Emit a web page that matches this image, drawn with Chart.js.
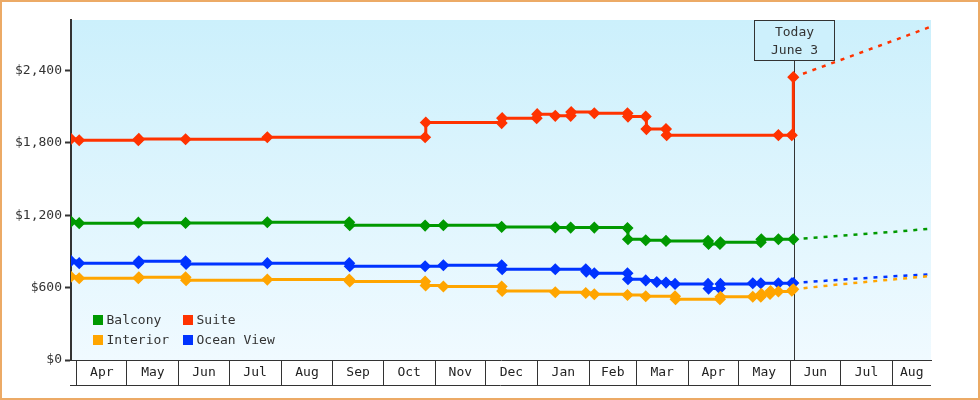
<!DOCTYPE html>
<html>
<head>
<meta charset="utf-8">
<title>Cabin prices</title>
<script src="https://cdn.jsdelivr.net/npm/chart.js@4.4.0/dist/chart.umd.min.js"></script>
<style>
    body { margin: 0; background: #fff; }
    #wrap { width: 976px; height: 396px; border: 2px solid #ecaa66; position: relative; }
</style>
</head>
<body>
<div id="wrap"><canvas id="priceChart"></canvas></div>
<script>
// ejes: dias contados desde el 1 de abril
const monthLabels = ['Apr', 'May', 'Jun', 'Jul', 'Aug', 'Sep', 'Oct', 'Nov', 'Dec', 'Jan', 'Feb', 'Mar', 'Apr', 'May', 'Jun', 'Jul', 'Aug'];
const monthStarts = [0, 30, 61, 91, 122, 153, 183, 214, 244, 275, 306, 334, 365, 395, 426, 456, 487];
const yTicks = [0, 600, 1200, 1800, 2400];
const todayDay = 428;
const todayText = ['Today', 'June 3'];

// precios observados
const balconyDays = [-3.4, 1.5, 36.8, 65, 113.8, 162.7, 163, 208, 218.9, 253.7, 285.7, 294.9, 309, 328.8, 329.1, 339.7, 351.8, 376.9, 377.2, 384, 384.3, 408.4, 408.7, 418.9, 427.8];
const balconyPrices = [1148, 1135, 1139, 1137, 1143, 1143, 1118, 1115, 1118, 1104, 1100, 1098, 1098, 1094, 1002, 993, 988, 988, 962, 962, 977, 977, 1002, 1002, 1002];

const suiteDays = [-3.4, 1.5, 36.8, 37.1, 65, 113.8, 208, 208.4, 253.7, 254, 274.6, 274.9, 285.7, 294.9, 295.2, 309, 328.8, 329.1, 339.7, 340.1, 351.8, 352.2, 418.9, 426.9, 427.8];
const suitePrices = [1834, 1823, 1823, 1834, 1831, 1848, 1848, 1970, 1965, 2006, 2006, 2039, 2025, 2025, 2056, 2047, 2047, 2019, 2019, 1915, 1915, 1865, 1865, 1865, 2346];

const interiorDays = [-3.4, 1.5, 36.8, 37.1, 65, 65.3, 113.8, 162.7, 163, 208, 208.3, 218.9, 253.7, 254, 285.7, 303.9, 309, 328.8, 339.7, 357.2, 357.5, 384, 384.3, 403.6, 408.4, 408.7, 413.9, 414.2, 418.9, 426.9, 427.8];
const interiorPrices = [691, 678, 678, 686, 686, 661, 667, 667, 651, 651, 618, 610, 610, 573, 562, 556, 545, 539, 529, 529, 504, 504, 525, 525, 525, 548, 548, 572, 568, 575, 587];

const oceanDays = [-3.4, 1.5, 36.8, 37.1, 65, 65.3, 113.8, 162.7, 163, 208, 218.9, 253.7, 254, 285.7, 303.9, 304.2, 309, 328.8, 329.1, 339.7, 346.3, 351.8, 357.2, 376.9, 377.2, 384, 384.3, 403.6, 408.4, 418.9, 426.9, 427.8];
const oceanPrices = [822, 803, 803, 819, 819, 797, 803, 803, 778, 778, 786, 786, 753, 753, 753, 733, 720, 720, 670, 660, 647, 642, 631, 631, 592, 592, 631, 637, 637, 637, 637, 639];

// proyeccion (punteada)
const forecastDays = [428, 456, 487, 510];
const balconyForecast = [1002, 1031, 1062, 1089];
const suiteForecast = [2346, 2488, 2646, 2765];
const interiorForecast = [587, 628, 668, 697];
const oceanForecast = [639, 666, 694, 711];

const colors = { balcony: '#009900', suite: '#ff3300', interior: '#ffa500', ocean: '#0033ff' };

function pts(days, prices) {
    return days.map((d, i) => ({ x: d, y: prices[i] }));
}

function series(label, color, days, prices) {
    return {
        label: label,
        data: pts(days, prices),
        borderColor: color,
        backgroundColor: color,
        borderWidth: 3,
        stepped: true,
        pointStyle: 'rectRot',
        pointRadius: 5,
        pointBorderWidth: 1.5,
        showInKey: true
    };
}

function forecast(color, prices) {
    return {
        label: '',
        data: pts(forecastDays, prices),
        borderColor: color,
        borderWidth: 2.5,
        borderDash: [4, 6],
        pointRadius: 0,
        showInKey: false
    };
}

const font = "'DejaVu Sans Mono', monospace";
Chart.defaults.font.family = font;
Chart.defaults.font.size = 13;
Chart.defaults.color = '#333';

// fondo degradado del area del grafico
const backdrop = {
    id: 'backdrop',
    beforeDraw(chart) {
        const { ctx, chartArea: a } = chart;
        const g = ctx.createLinearGradient(0, a.top, 0, a.bottom);
        g.addColorStop(0, '#ccf0fc');
        g.addColorStop(1, '#f0faff');
        ctx.save();
        ctx.fillStyle = g;
        ctx.fillRect(a.left, a.top, a.right - a.left, a.bottom - a.top);
        ctx.restore();
    }
};

// linea de "hoy" con su cartel
const todayMarker = {
    id: 'todayMarker',
    beforeDatasetsDraw(chart) {
        const { ctx, chartArea: a } = chart;
        const x = Math.round(chart.scales.x.getPixelForValue(todayDay)) + 0.5;
        const boxW = 80, boxH = 40;
        ctx.save();
        ctx.strokeStyle = '#333';
        ctx.lineWidth = 1;
        ctx.beginPath();
        ctx.moveTo(x, a.top + boxH);
        ctx.lineTo(x, a.bottom);
        ctx.stroke();
        ctx.fillStyle = '#cdf0fc';
        ctx.fillRect(x - boxW / 2, a.top + 0.5, boxW, boxH);
        ctx.strokeRect(x - boxW / 2, a.top + 0.5, boxW, boxH);
        ctx.fillStyle = '#333';
        ctx.font = '13px ' + font;
        ctx.textAlign = 'center';
        ctx.textBaseline = 'middle';
        ctx.fillText(todayText[0], x, a.top + 12.5);
        ctx.fillText(todayText[1], x, a.top + 30.5);
        ctx.restore();
    }
};

// leyenda dentro del grafico, 2 columnas
const insideKey = {
    id: 'insideKey',
    afterDatasetsDraw(chart) {
        const { ctx, chartArea: a } = chart;
        const items = chart.data.datasets.filter(d => d.showInKey);
        ctx.save();
        ctx.font = '13px ' + font;
        ctx.textBaseline = 'middle';
        items.forEach((d, i) => {
            const x = a.left + 22 + (i % 2) * 90;
            const y = a.bottom - 45 + Math.floor(i / 2) * 20;
            ctx.fillStyle = d.borderColor;
            ctx.fillRect(x, y, 10, 10);
            ctx.fillStyle = '#333';
            ctx.fillText(d.label, x + 13.5, y + 5.5);
        });
        ctx.restore();
    }
};

// cajas de meses bajo el eje x
const monthBoxes = {
    id: 'monthBoxes',
    afterDraw(chart) {
        const { ctx, chartArea: a } = chart;
        const xs = chart.scales.x;
        const yBottom = a.bottom + 25;
        ctx.save();
        ctx.strokeStyle = '#333';
        ctx.lineWidth = 1;
        ctx.beginPath();
        ctx.moveTo(a.left - 1, yBottom + 0.5);
        ctx.lineTo(a.right, yBottom + 0.5);
        ctx.stroke();
        ctx.fillStyle = '#222';
        ctx.font = '13px ' + font;
        ctx.textAlign = 'center';
        ctx.textBaseline = 'middle';
        monthLabels.forEach((m, i) => {
            const left = xs.getPixelForValue(monthStarts[i]);
            const right = i + 1 < monthStarts.length ? xs.getPixelForValue(monthStarts[i + 1]) : a.right;
            ctx.fillText(m, (left + right) / 2, a.bottom + 13);
        });
        ctx.restore();
    }
};

const ctx = document.getElementById('priceChart').getContext('2d');
const priceChart = new Chart(ctx, {
    type: 'line',
    data: {
        datasets: [
            series('Balcony', colors.balcony, balconyDays, balconyPrices),
            series('Suite', colors.suite, suiteDays, suitePrices),
            series('Interior', colors.interior, interiorDays, interiorPrices),
            series('Ocean View', colors.ocean, oceanDays, oceanPrices),
            forecast(colors.balcony, balconyForecast),
            forecast(colors.suite, suiteForecast),
            forecast(colors.interior, interiorForecast),
            forecast(colors.ocean, oceanForecast)
        ]
    },
    options: {
        responsive: true,
        maintainAspectRatio: false,
        devicePixelRatio: 1,
        animation: false,
        layout: { padding: { left: 0, top: 18, right: 47, bottom: 0 } },
        scales: {
            x: {
                type: 'linear',
                min: -3.4,
                max: 510,
                afterFit: s => { s.height = 38; },
                afterBuildTicks: s => { s.ticks = monthStarts.map(v => ({ value: v })); },
                grid: { drawOnChartArea: false, tickLength: 25, color: '#333', lineWidth: 1 },
                border: { color: '#333', width: 1 },
                ticks: { display: false }
            },
            y: {
                min: 0,
                max: 2820,
                afterFit: s => { s.width = 69; },
                afterBuildTicks: s => { s.ticks = yTicks.map(v => ({ value: v })); },
                grid: { drawOnChartArea: false, tickLength: 6, tickWidth: 2, tickColor: '#333' },
                border: { color: '#333', width: 2 },
                ticks: {
                    padding: 3,
                    color: '#333',
                    callback: v => '$' + v.toLocaleString('en-US')
                }
            }
        },
        plugins: {
            legend: { display: false },
            tooltip: { enabled: false }
        }
    },
    plugins: [backdrop, todayMarker, insideKey, monthBoxes]
});
</script>
</body>
</html>
